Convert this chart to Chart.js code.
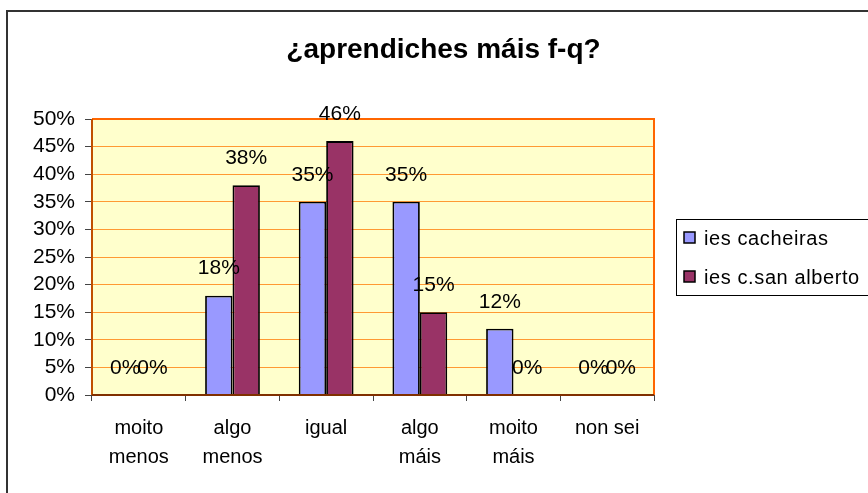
<!DOCTYPE html>
<html>
<head>
<meta charset="utf-8">
<script src="https://cdn.jsdelivr.net/npm/chart.js@4/dist/chart.umd.min.js"></script>
<style>
  html, body { margin: 0; padding: 0; background: #fff; overflow: hidden; }
</style>
</head>
<body>
<canvas id="myBarChart" width="868" height="493"></canvas>
<script>
var chartTitle = '¿aprendiches máis f-q?';
var categories = [['moito', 'menos'], ['algo', 'menos'], 'igual', ['algo', 'máis'], ['moito', 'máis'], 'non sei'];
var seriesNames = ['ies cacheiras', 'ies c.san alberto'];
var cacheiras = [0, 18, 35, 35, 12, 0];
var sanAlberto = [0, 38, 46, 15, 0, 0];
var yTicks = [0, 5, 10, 15, 20, 25, 30, 35, 40, 45, 50];

var fontFamily = '"Liberation Sans", Arial, sans-serif';

// frame, plot background, title, legend, value labels
var extras = {
  id: 'extras',
  beforeDraw: function (chart) {
    var c = chart.ctx, a = chart.chartArea;
    c.save();
    c.fillStyle = '#fff';
    c.fillRect(0, 0, chart.width, chart.height);
    c.strokeStyle = '#333';
    c.lineWidth = 2;
    c.beginPath();
    c.moveTo(7, chart.height);
    c.lineTo(7, 11);
    c.lineTo(chart.width, 11);
    c.stroke();
    c.fillStyle = '#FFFFCC';
    c.fillRect(a.left, a.top, a.right - a.left, a.bottom - a.top);
    c.restore();
  },
  afterDatasetsDraw: function (chart) {
    var c = chart.ctx, a = chart.chartArea;
    c.save();
    // plot border
    c.lineWidth = 2;
    c.strokeStyle = '#FF6600';
    c.beginPath();
    c.moveTo(a.left, a.top);
    c.lineTo(a.right, a.top);
    c.lineTo(a.right, a.bottom);
    c.stroke();
    c.strokeStyle = '#C05000';
    c.beginPath();
    c.moveTo(a.left, a.bottom);
    c.lineTo(a.left, a.top);
    c.stroke();
    c.strokeStyle = '#803000';
    c.beginPath();
    c.moveTo(a.left, a.bottom);
    c.lineTo(a.right, a.bottom);
    c.stroke();

    // value labels
    c.fillStyle = '#000';
    c.font = '21px ' + fontFamily;
    c.textAlign = 'center';
    c.textBaseline = 'middle';
    chart.data.datasets.forEach(function (ds, i) {
      chart.getDatasetMeta(i).data.forEach(function (bar, j) {
        c.fillText(ds.data[j] + '%', bar.x, bar.y - 27);
      });
    });

    // title
    c.font = 'bold 28px ' + fontFamily;
    c.fillText(chartTitle, 443.5, 50);

    // legend
    c.lineWidth = 1;
    c.strokeStyle = '#000';
    c.strokeRect(676.5, 219.5, 200, 76);
    c.textAlign = 'left';
    c.font = '20px ' + fontFamily;
    c.letterSpacing = '0.6px';
    chart.data.datasets.forEach(function (ds, i) {
      var y = 238 + i * 39;
      c.fillStyle = ds.backgroundColor;
      c.fillRect(684, y - 6, 11, 11);
      c.lineWidth = 1.5;
      c.strokeRect(684, y - 6, 11, 11);
      c.fillStyle = '#000';
      c.fillText(ds.label, 704, y + 1);
    });
    c.restore();
  }
};

var ctx = document.getElementById('myBarChart').getContext('2d');
var myBarChart = new Chart(ctx, {
  type: 'bar',
  data: {
    labels: categories,
    datasets: [
      {
        label: seriesNames[0],
        data: cacheiras,
        backgroundColor: '#9999FF',
        borderColor: '#000',
        borderWidth: function (c) { return c.raw ? 1.8 : 0; }
      },
      {
        label: seriesNames[1],
        data: sanAlberto,
        backgroundColor: '#993366',
        borderColor: '#000',
        borderWidth: function (c) { return c.raw ? 1.8 : 0; }
      }
    ]
  },
  options: {
    responsive: false,
    animation: false,
    devicePixelRatio: 1,
    layout: { padding: { left: 0, top: 119, right: 214, bottom: 0 } },
    datasets: { bar: { categoryPercentage: 0.585, barPercentage: 1 } },
    plugins: {
      legend: { display: false },
      title: { display: false },
      tooltip: { enabled: false }
    },
    scales: {
      x: {
        grid: { drawOnChartArea: false, drawTicks: true, tickLength: 6, tickColor: '#444', offset: true },
        border: { display: false },
        ticks: {
          color: '#000',
          padding: 13,
          maxRotation: 0,
          autoSkip: false,
          font: { family: fontFamily, size: 20, lineHeight: 1.45 }
        },
        afterFit: function (s) { s.height = 98; }
      },
      y: {
        min: 0,
        max: 50,
        afterBuildTicks: function (s) { s.ticks = yTicks.map(function (v) { return { value: v }; }); },
        grid: { color: '#FF9933', lineWidth: 1, tickLength: 7, tickColor: '#444' },
        border: { display: false },
        ticks: {
          color: '#000',
          padding: 10,
          autoSkip: false,
          font: { family: fontFamily, size: 21 },
          callback: function (v) { return v + '%'; }
        },
        afterFit: function (s) { s.width = 92; }
      }
    }
  },
  plugins: [extras]
});
</script>
</body>
</html>
